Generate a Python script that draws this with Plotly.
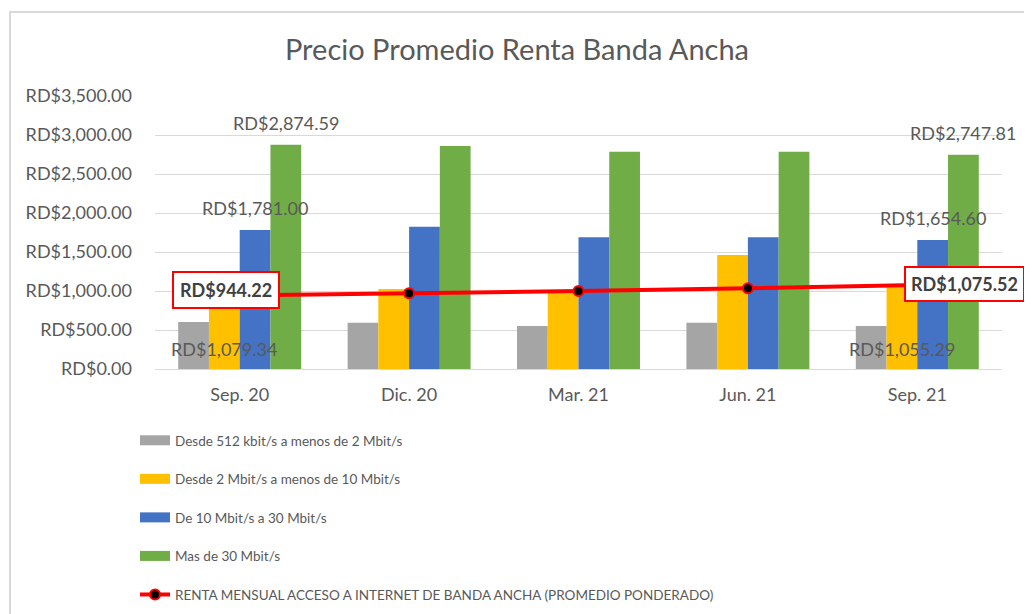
import plotly.graph_objects as go

categories = ["Sep. 20", "Dic. 20", "Mar. 21", "Jun. 21", "Sep. 21"]
s_512k_2m = [602, 593, 551, 593, 551]
s_2m_10m = [1079.34, 1026, 985, 1461, 1055.29]
s_10m_30m = [1781.00, 1824, 1688, 1688, 1654.60]
s_30m_plus = [2874.59, 2858, 2786, 2786, 2747.81]
renta_promedio = [944.22, 970, 1000, 1035, 1075.52]

names = [
    "Desde 512 kbit/s a menos de 2 Mbit/s",
    "Desde 2 Mbit/s a menos de 10 Mbit/s",
    "De 10 Mbit/s a 30 Mbit/s",
    "Mas de 30 Mbit/s",
]
line_name = "RENTA MENSUAL ACCESO A INTERNET DE BANDA ANCHA (PROMEDIO PONDERADO)"
colors = ["#A5A5A5", "#FFC000", "#4472C4", "#70AD47"]

FONT = "Lato, 'Open Sans', sans-serif"
TXT = "#595959"

fig = go.Figure()
for i, (nm, vals, c) in enumerate(zip(names, [s_512k_2m, s_2m_10m, s_10m_30m, s_30m_plus], colors)):
    fig.add_trace(go.Bar(x=categories, y=vals, name=nm, marker=dict(color=c, line=dict(width=0)),
                         legendgroup=f"g{i}", showlegend=False))
    # legend entry drawn as a wide swatch (like the original's rectangular keys)
    fig.add_trace(go.Scatter(x=[None], y=[None], mode="lines", name=nm,
                             line=dict(color=c, width=11), legendgroup=f"g{i}", hoverinfo="skip"))

fig.add_trace(go.Scatter(
    x=categories, y=renta_promedio, name=line_name, mode="lines+markers",
    line=dict(color="#FF0000", width=4),
    marker=dict(color="#000000", size=10, line=dict(color="#FF0000", width=2)),
    legendgroup="g4",
))

def fmt(v):
    return "RD$" + f"{v:,.2f}"

# bar offsets within a group (in category units)
bw = 0.1815
offs = [-1.5 * bw, -0.5 * bw, 0.5 * bw, 1.5 * bw]

LBL = dict(size=18, color=TXT, family=FONT)
ann = []
for idx in [0, 4]:
    ann.append(dict(x=idx + offs[3], y=s_30m_plus[idx], text=fmt(s_30m_plus[idx]), showarrow=False,
                    yshift=22, font=LBL))
    ann.append(dict(x=idx + offs[2], y=s_10m_30m[idx], text=fmt(s_10m_30m[idx]), showarrow=False,
                    yshift=22, font=LBL))
    ann.append(dict(x=idx + offs[1], y=0, text=fmt(s_2m_10m[idx]), showarrow=False,
                    yshift=20, font=LBL))

ann.append(dict(x=0, y=renta_promedio[0], text="<b>" + fmt(renta_promedio[0]) + "</b>", showarrow=False,
                xshift=-13.5, yshift=5, bgcolor="white", bordercolor="#FF0000", borderwidth=2, borderpad=6,
                font=dict(size=18, color="#404040", family=FONT)))
ann.append(dict(x=4, y=renta_promedio[4], text="<b>" + fmt(renta_promedio[4]) + "</b>", showarrow=False,
                xshift=47.5, yshift=1, bgcolor="white", bordercolor="#FF0000", borderwidth=2, borderpad=5,
                font=dict(size=18, color="#404040", family=FONT)))

# page is offset by the browser's 8px body margin; coordinates below compensate for it
fig.update_layout(
    width=1032, height=614,
    margin=dict(l=147, r=38, t=88, b=253, autoexpand=False),
    paper_bgcolor="white", plot_bgcolor="white",
    barmode="group", bargap=0.274, bargroupgap=0,
    title=dict(text="Precio Promedio Renta Banda Ancha", x=509 / 1032, xanchor="center",
               y=1 - 42 / 614, yanchor="middle",
               font=dict(size=29, color=TXT, family=FONT)),
    font=dict(family=FONT, color=TXT, size=18),
    legend=dict(xref="container", yref="container", x=127 / 1032, y=1 - 417 / 614,
                xanchor="left", yanchor="top", orientation="v",
                font=dict(size=13.5, color=TXT, family=FONT), tracegroupgap=18,
                itemwidth=30, bgcolor="rgba(0,0,0,0)"),
    annotations=ann,
    shapes=[dict(type="rect", xref="paper", yref="paper",
                 x0=(10 - 155) / 847, x1=(1026 - 155) / 847,
                 y0=-0.95, y1=(369 - 12) / 273,
                 line=dict(color="#D9D9D9", width=2), fillcolor="rgba(0,0,0,0)", layer="below")],
)
fig.update_xaxes(range=[-0.5, 4.5], autorange=False, showgrid=False, showline=True,
                 linecolor="#D9D9D9", linewidth=1, automargin=False,
                 tickfont=dict(size=18, color=TXT), ticks="", ticklabelstandoff=9)
fig.update_yaxes(range=[0, 3500], autorange=False, dtick=500, tickprefix="RD$", tickformat=",.2f",
                 automargin=False, showgrid=True, gridcolor="#D9D9D9", gridwidth=1, zeroline=False,
                 showline=False, ticks="", tickfont=dict(size=18, color=TXT), ticklabelstandoff=22)

fig.write_html("out.html")
